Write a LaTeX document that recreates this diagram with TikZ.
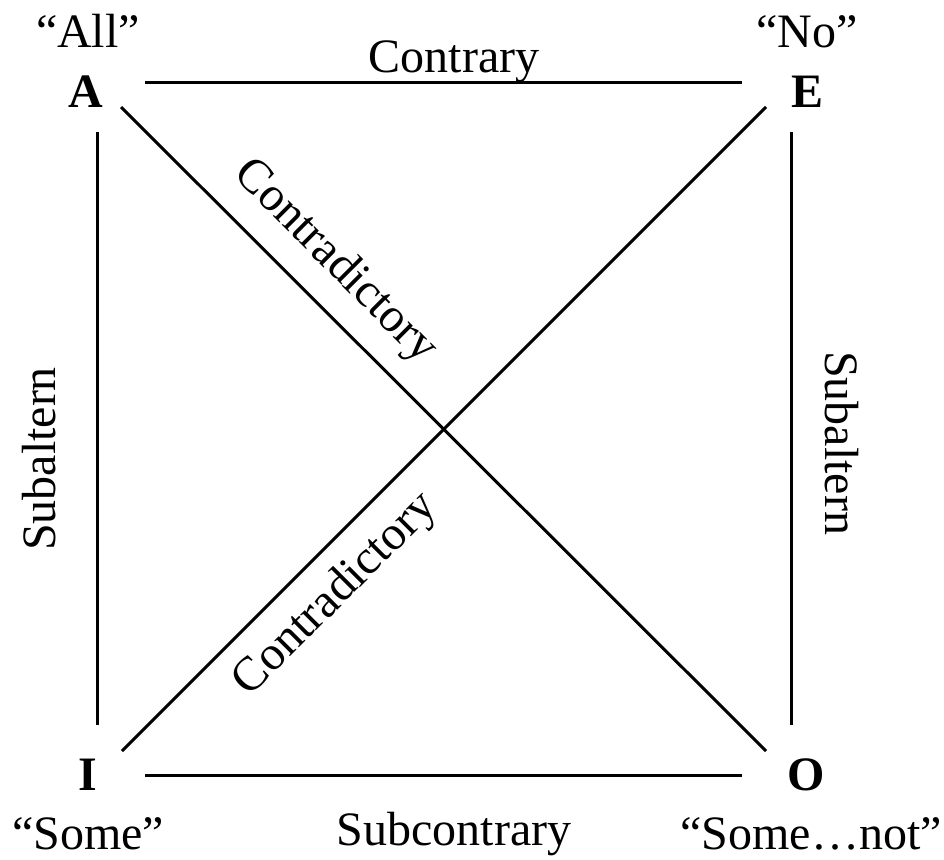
\documentclass[tikz,border=0pt]{standalone}
\usepackage{fontspec}
\setmainfont{Liberation Serif}
\begin{document}
\begin{tikzpicture}[x=1pt,y=-1pt,
  edge/.style={line width=3pt},
  lbl/.style={font=\fontsize{48}{58}\selectfont, inner sep=0pt, anchor=base},
  vtx/.style={font=\fontsize{48}{58}\selectfont\bfseries, inner sep=0pt, anchor=base},
  slopedlbl/.style={font=\fontsize{48}{58}\selectfont, inner sep=0pt, anchor=center}]
\useasboundingbox (0,0) rectangle (944,859);
% vertices
\node[vtx] (A) at (86,107) {A};
\node[vtx] (E) at (807,107) {E};
\node[vtx] (I) at (88,790) {I};
\node[vtx] (O) at (806,790) {O};
% quantifier labels
\node[lbl] (all) at (88,48) {“All”};
\node[lbl] (no) at (807,48) {“No”};
\node[lbl] (some) at (88,849) {“Some”};
\node[lbl] (somenot) at (811,849) {“Some…not”};
% connector ends
\coordinate (AEa) at (145,82);
\coordinate (AEb) at (742,82);
\coordinate (IOa) at (145,775);
\coordinate (IOb) at (742,775);
\coordinate (AIa) at (97,132);
\coordinate (AIb) at (97,725);
\coordinate (EOa) at (791,132);
\coordinate (EOb) at (791,725);
\coordinate (AOa) at (121,107);
\coordinate (AOb) at (766,751);
\coordinate (EIa) at (766,107);
\coordinate (EIb) at (122,751);
% connectors
\draw[edge] (AEa) -- (AEb);
\draw[edge] (IOa) -- (IOb);
\draw[edge] (AIa) -- (AIb);
\draw[edge] (EOa) -- (EOb);
\draw[edge] (AOa) -- (AOb);
\draw[edge] (EIa) -- (EIb);
% relation labels
\node[lbl] (contrary) at (454,73) {Contrary};
\node[lbl] (subcontrary) at (454,845) {Subcontrary};
\node[lbl, rotate=90] (subL) at (55,459) {Subaltern};
\node[lbl, rotate=-90] (subR) at (825,443) {Subaltern};
\node[slopedlbl, rotate=-45] (contrU) at (335,262) {Contradictory};
\node[slopedlbl, rotate=45] (contrL) at (336,595) {Contradictory};
\end{tikzpicture}
\end{document}
